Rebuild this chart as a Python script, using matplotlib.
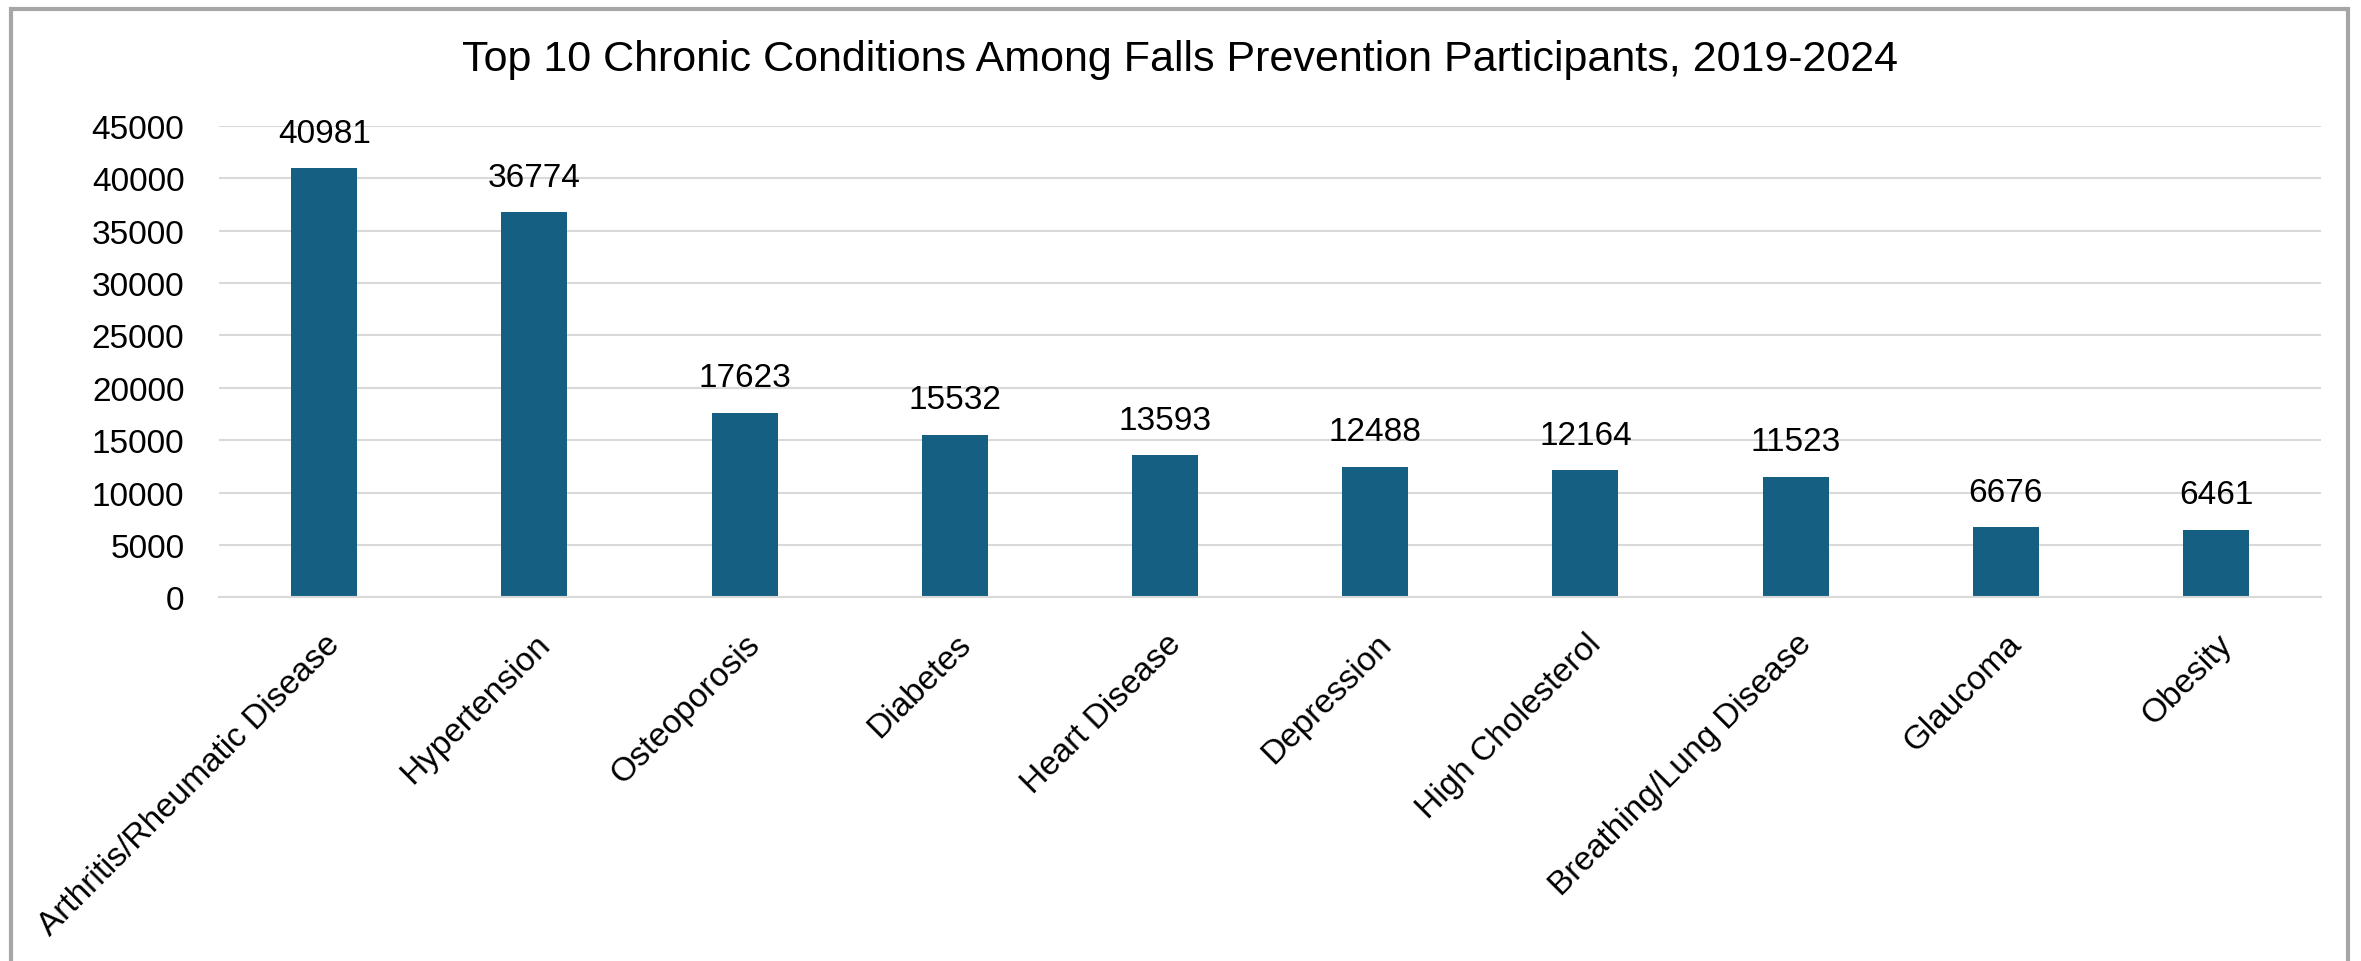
import matplotlib.pyplot as plt
from matplotlib.patches import Rectangle

plt.rcParams['font.family'] = ['Liberation Sans', 'DejaVu Sans']

# Data
conditions = ['Arthritis/Rheumatic Disease', 'Hypertension', 'Osteoporosis', 'Diabetes',
              'Heart Disease', 'Depression', 'High Cholesterol', 'Breathing/Lung Disease',
              'Glaucoma', 'Obesity']
participants = [40981, 36774, 17623, 15532, 13593, 12488, 12164, 11523, 6676, 6461]
y_ticks = [0, 5000, 10000, 15000, 20000, 25000, 30000, 35000, 40000, 45000]

bar_color = '#156082'
grid_color = '#d9d9d9'

fig = plt.figure(figsize=(23.61, 9.62), dpi=100)
ax = fig.add_axes([0.0928, 0.378, 0.8903, 0.490])

x = list(range(len(conditions)))
bars = ax.bar(x, participants, width=0.314, color=bar_color, zorder=3)

# value labels above each bar
for b, v in zip(bars, participants):
    ax.annotate(str(v), (b.get_x() + b.get_width() / 2, v), xytext=(0, 14),
                textcoords='offset points', ha='center', va='bottom', fontsize=24)

ax.set_xlim(-0.5, len(conditions) - 0.5)
ax.set_ylim(0, 45000)
ax.set_yticks(y_ticks)
ax.set_yticklabels([str(t) for t in y_ticks], fontsize=24)
ax.set_xticks(x)
ax.set_xticklabels(conditions, rotation=45, ha='right', rotation_mode='anchor', fontsize=24)
ax.tick_params(axis='y', length=0, pad=25)
ax.tick_params(axis='x', length=0, pad=22)

ax.yaxis.grid(True, color=grid_color, linewidth=1.5, zorder=0)
for s in ['top', 'right', 'left']:
    ax.spines[s].set_visible(False)
ax.spines['bottom'].set_color(grid_color)
ax.spines['bottom'].set_linewidth(1.5)
ax.spines['bottom'].set_zorder(4)

fig.text(0.5, 0.938, 'Top 10 Chronic Conditions Among Falls Prevention Participants, 2019-2024',
         ha='center', va='center', fontsize=31)

# chart frame
fig.patches.append(Rectangle((0.0045, -0.05), 0.99, 1.04, transform=fig.transFigure,
                             fill=False, edgecolor='#a6a6a6', linewidth=3))

fig.savefig('out.png', dpi=100)
